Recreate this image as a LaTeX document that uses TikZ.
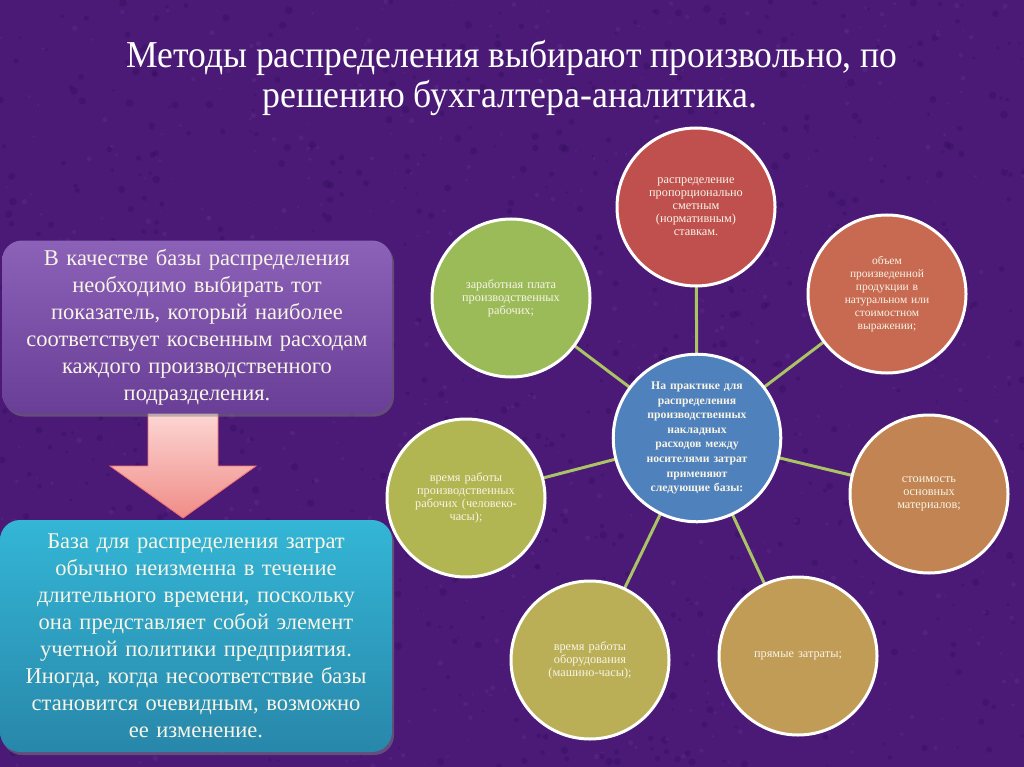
\documentclass[tikz,border=0pt]{standalone}
\usepackage{fontspec}
\setmainfont{Liberation Serif}
\usetikzlibrary{shadows}
\definecolor{bgpurple}{RGB}{74,26,118}
\definecolor{bgdark}{RGB}{50,12,90}
\definecolor{bglight}{RGB}{105,50,150}
\definecolor{cream}{RGB}{248,244,230}
\definecolor{cblue}{RGB}{79,129,189}
\definecolor{cred}{RGB}{192,80,77}
\definecolor{corange}{RGB}{200,106,82}
\definecolor{cgreen}{RGB}{155,187,89}
\definecolor{colive}{RGB}{178,182,82}
\definecolor{cbrown}{RGB}{193,132,82}
\definecolor{cmustard}{RGB}{186,175,86}
\definecolor{ctan}{RGB}{193,156,86}
\definecolor{connc}{RGB}{170,195,100}
\definecolor{ptop}{RGB}{140,98,185}
\definecolor{pbot}{RGB}{104,62,150}
\definecolor{ctop}{RGB}{52,182,214}
\definecolor{cbot}{RGB}{40,135,170}
\definecolor{pinkt}{RGB}{252,215,212}
\definecolor{pinkb}{RGB}{240,140,135}
\pgfdeclarelayer{bglayer}
\pgfdeclarelayer{lines}
\pgfsetlayers{bglayer,lines,main}
\begin{document}
\begin{tikzpicture}[x=1pt,y=-1pt,
  circ/.style={circle, draw=white, line width=3pt, minimum size=158pt,
    inner sep=0pt, align=center, text=cream,
    font=\fontsize{12.3}{13}\selectfont},
  conn/.style={draw=connc, line width=3pt},
  infobox/.style={rounded corners=20pt, align=center, text=cream,
    font=\fontsize{22.5}{27}\selectfont, text width=375pt,
    drop shadow={opacity=0.5, shadow xshift=2pt, shadow yshift=-3pt}},
  titletext/.style={text=white, inner sep=0pt}
]
\useasboundingbox (0,0) rectangle (1024,767);
\begin{pgfonlayer}{bglayer}
  \fill[bgpurple] (0,0) rectangle (1024,767);
  \pgfmathsetseed{7}
  \foreach \i in {1,...,900} {
    \pgfmathsetmacro{\px}{rnd*1024}
    \pgfmathsetmacro{\py}{rnd*767}
    \pgfmathsetmacro{\pr}{1+rnd*3}
    \fill[bgdark, opacity=0.35] (\px,\py) circle (\pr pt);
  }
  \foreach \i in {1,...,700} {
    \pgfmathsetmacro{\px}{rnd*1024}
    \pgfmathsetmacro{\py}{rnd*767}
    \pgfmathsetmacro{\pr}{0.8+rnd*2}
    \fill[bglight, opacity=0.3] (\px,\py) circle (\pr pt);
  }
\end{pgfonlayer}

% title
\node[titletext] (t1) at (512,58) {\resizebox{771pt}{\height}{\fontsize{38}{40}\selectfont Методы распределения выбирают произвольно, по}};
\node[titletext] (t2) at (510,98) {\resizebox{495pt}{\height}{\fontsize{38}{40}\selectfont решению бухгалтера-аналитика.}};

% circles
\node[circ, fill=cblue, text width=125pt, font=\bfseries\fontsize{11.7}{14.6}\selectfont] (c0) at (697,438)
  {На практике для\\распределения\\производственных\\накладных\\расходов между\\носителями затрат\\применяют\\следующие базы:};
\node[circ, fill=cred, text width=120pt] (c1) at (696,207)
  {распределение\\пропорционально\\сметным\\(нормативным)\\ставкам.\\[4pt]};
\node[circ, fill=corange, text width=120pt, font=\fontsize{11.5}{13}\selectfont] (c2) at (887,294)
  {объем\\произведенной\\продукции в\\натуральном или\\стоимостном\\выражении;};
\node[circ, fill=cgreen, text width=120pt] (c3) at (511,298)
  {заработная плата\\производственных\\рабочих;\\[8pt]};
\node[circ, fill=colive, text width=120pt] (c4) at (466,498)
  {время работы\\производственных\\рабочих (человеко-\\часы);\\[8pt]};
\node[circ, fill=cbrown, text width=120pt] (c5) at (929,494)
  {стоимость\\основных\\материалов;};
\node[circ, fill=cmustard, text width=120pt] (c6) at (590,660)
  {время работы\\оборудования\\(машино-часы);\\[8pt]};
\node[circ, fill=ctan, text width=120pt] (c7) at (798,656)
  {прямые затраты;};

\begin{pgfonlayer}{lines}
  \foreach \n in {c1,c2,c3,c4,c5,c6,c7} {
    \draw[conn] (c0.center) -- (\n.center);
  }
\end{pgfonlayer}

% arrow
\coordinate (arrtip) at (183,518);
\shade[top color=pinkt, bottom color=pinkb, draw=pinkb!80!red, line width=0.8pt]
  (148,412) -- (218,412) -- (218,466) -- (256,466) -- (arrtip) -- (110,466) -- (148,466) -- cycle;

% boxes
\node[infobox, top color=ptop, bottom color=pbot, minimum height=173pt, minimum width=390pt] (b1) at (197,327)
  {В качестве базы распределения\\необходимо выбирать тот\\показатель, который наиболее\\соответствует косвенным расходам\\каждого производственного\\подразделения.};
\node[infobox, top color=ctop, bottom color=cbot, minimum height=232pt, minimum width=392pt] (b2) at (196,636)
  {База для распределения затрат\\обычно неизменна в течение\\длительного времени, поскольку\\она представляет собой элемент\\учетной политики предприятия.\\Иногда, когда несоответствие базы\\становится очевидным, возможно\\ее изменение.};
\end{tikzpicture}
\end{document}
